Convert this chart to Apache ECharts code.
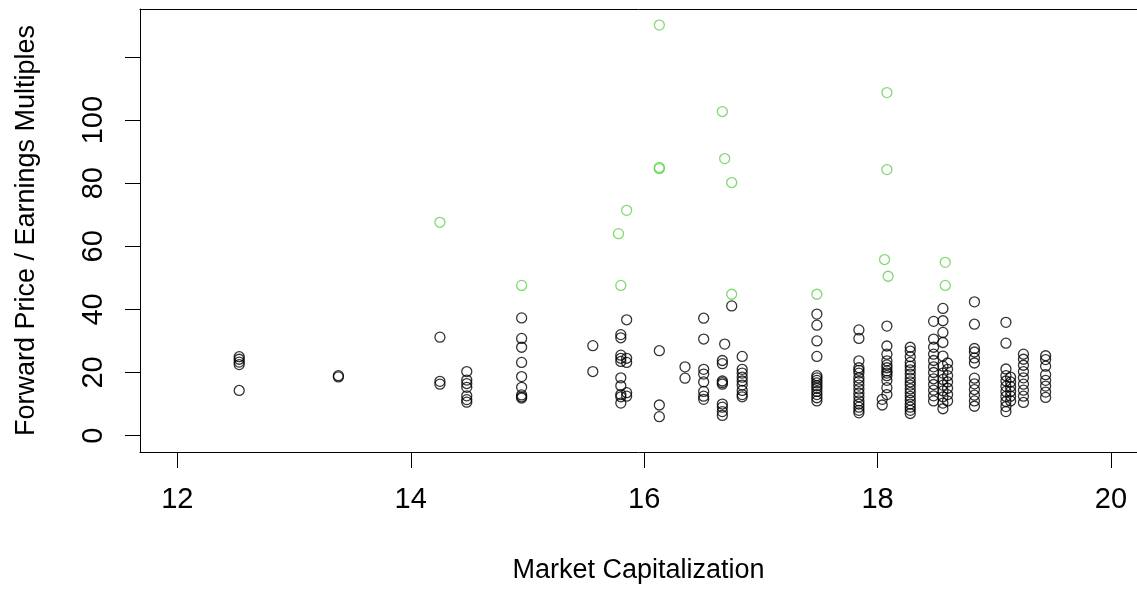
<!DOCTYPE html>
<html>
<head>
<meta charset="utf-8">
<script src="https://cdn.jsdelivr.net/npm/echarts@6/dist/echarts.min.js"></script>
<style>
  html, body { margin: 0; padding: 0; background: #fff; }
  #chart { width: 1137px; height: 589px; }
</style>
</head>
<body>
<div id="chart"></div>
<script>
// Market capitalization (log scale) of each group of companies
const capGroups = [12.53, 13.38, 14.25, 14.48, 14.95, 15.56, 15.80, 15.85, 16.13, 16.35,
  16.51, 16.67, 16.69, 16.75, 16.84, 17.48, 17.84, 18.04, 18.08, 18.28,
  18.48, 18.56, 18.60, 18.83, 19.10, 19.14, 19.25, 19.44];

// Forward P/E multiples of the companies in each group (regular observations)
const peByGroup = [
  [25, 24.2, 23.3, 22.5, 14.3],
  [19.0, 18.6],
  [31.2, 17.2, 16.3],
  [20.3, 17.6, 16.5, 15.3, 12.6, 11.4, 10.6],
  [37.3, 30.8, 28.0, 23.2, 18.7, 15.3, 12.9, 12.3, 11.9],
  [28.5, 20.3],
  [32.0, 31.0, 25.5, 24.5, 23.5, 18.3, 15.8, 13.0, 12.3, 10.3],
  [36.7, 24.5, 23.2, 13.6, 12.5],
  [26.9, 9.7, 6.0],
  [21.8, 18.2],
  [37.2, 30.6, 21.0, 19.5, 17.0, 14.0, 12.5, 11.5],
  [23.8, 22.8, 17.3, 16.8, 16.3, 10.0, 9.0, 7.6, 6.4],
  [29.0],
  [41.1],
  [25.1, 21.0, 19.8, 18.5, 17.3, 16.0, 14.3, 13.0, 12.3],
  [38.5, 35.0, 30.0, 25.1, 19.0, 18.3, 17.5, 16.7, 15.8, 15.0, 14.0, 13.0, 12.0, 11.0],
  [33.5, 30.8, 23.7, 21.5, 20.7, 19.8, 18.3, 17.2, 16.0, 14.8, 13.5, 12.3, 11.0, 10.0, 9.0, 8.0, 7.2],
  [11.5, 9.7],
  [34.7, 28.4, 25.8, 23.7, 22.4, 21.5, 20.5, 19.8, 19.0, 17.5, 15.2, 13.0],
  [28.0, 26.8, 25.0, 23.2, 22.0, 20.8, 19.5, 18.2, 17.0, 16.0, 14.8, 13.6, 12.4, 11.2, 10.0, 9.0, 8.0, 7.0],
  [36.2, 30.6, 28.0, 25.8, 23.8, 21.8, 20.0, 18.0, 16.2, 14.4, 12.6, 11.0],
  [40.3, 36.4, 32.7, 29.5, 25.2, 22.0, 19.8, 17.8, 16.0, 14.2, 12.3, 10.3, 8.5],
  [23.0, 21.0, 19.0, 17.0, 15.0, 13.0, 11.0],
  [42.4, 35.3, 27.6, 26.5, 24.6, 23.0, 18.2, 16.4, 14.6, 12.8, 11.0, 9.3],
  [35.9, 29.3, 21.1, 19.0, 17.3, 15.6, 14.0, 12.4, 10.8, 9.2, 7.6],
  [18.5, 17.0, 15.5, 14.0, 12.5, 11.0],
  [25.8, 24.2, 22.3, 20.3, 18.3, 16.3, 14.4, 12.5, 10.5],
  [25.3, 24.1, 22.0, 19.3, 17.5, 15.7, 13.8, 12.1]
];

// High-multiple companies, drawn in green
const outlierCap = [14.25, 14.95, 15.78, 15.85, 15.80, 16.13, 16.13, 16.13, 16.67, 16.69,
  16.75, 16.75, 17.48, 18.06, 18.09, 18.08, 18.08, 18.58, 18.58];
const outlierPE = [67.6, 47.6, 64.0, 71.4, 47.6, 130.1, 85.0, 84.6, 102.7, 87.8,
  80.2, 44.8, 44.8, 55.8, 50.5, 108.7, 84.3, 54.9, 47.6];

// Axis ticks and labels
const xTicks = [12, 14, 16, 18, 20];
const yTicks = [0, 20, 40, 60, 80, 100, 120];
const yLabels = [0, 20, 40, 60, 80, 100];

const regular = [];
capGroups.forEach((x, i) => peByGroup[i].forEach(y => regular.push([x, y])));
const outliers = outlierCap.map((x, i) => [x, outlierPE[i]]);

const font = 'Arial, "Liberation Sans", sans-serif';
const chart = echarts.init(document.getElementById('chart'), null, { renderer: 'canvas' });

// open circles, like base-graphics pch = 1
const circle = (color) => ({
  type: 'scatter',
  symbol: 'circle',
  symbolSize: 10,
  itemStyle: { color: 'rgba(0,0,0,0)', borderColor: color, borderWidth: 1.3 },
  emphasis: { disabled: true },
  silent: true,
  animation: false
});

const X_MIN = 11.68, X_MAX = 20.223;
const boxLine = { show: true, onZero: false, lineStyle: { color: '#000', width: 1 } };

chart.setOption({
  animation: false,
  backgroundColor: '#fff',
  grid: { left: 140, top: 9, right: 0, height: 444 },
  xAxis: [{
    type: 'value',
    position: 'bottom',
    min: X_MIN,
    max: X_MAX,
    name: 'Market Capitalization',
    nameLocation: 'middle',
    nameGap: 105,
    nameTextStyle: { fontFamily: font, fontSize: 27, color: '#000' },
    axisLine: boxLine,
    splitLine: { show: false },
    axisTick: { show: true, length: 16, lineStyle: { color: '#000', width: 1 }, customValues: xTicks },
    axisLabel: { show: true, margin: 33, fontFamily: font, fontSize: 29, color: '#000', customValues: xTicks }
  }, {
    type: 'value',
    position: 'top',
    min: X_MIN,
    max: X_MAX,
    axisLine: boxLine,
    splitLine: { show: false },
    axisTick: { show: false },
    axisLabel: { show: false }
  }],
  yAxis: {
    type: 'value',
    position: 'left',
    min: -5.2,
    max: 135.2,
    name: 'Forward Price / Earnings Multiples',
    nameLocation: 'middle',
    nameGap: 100,
    nameTextStyle: { fontFamily: font, fontSize: 27, color: '#000' },
    axisLine: boxLine,
    splitLine: { show: false },
    axisTick: { show: true, length: 15, lineStyle: { color: '#000', width: 1 }, customValues: yTicks },
    axisLabel: { show: true, rotate: 90, margin: 32, fontFamily: font, fontSize: 29, color: '#000', customValues: yLabels }
  },
  series: [
    Object.assign(circle('#000000'), { data: regular }),
    Object.assign(circle('#61D04F'), { data: outliers })
  ]
});
</script>
</body>
</html>
